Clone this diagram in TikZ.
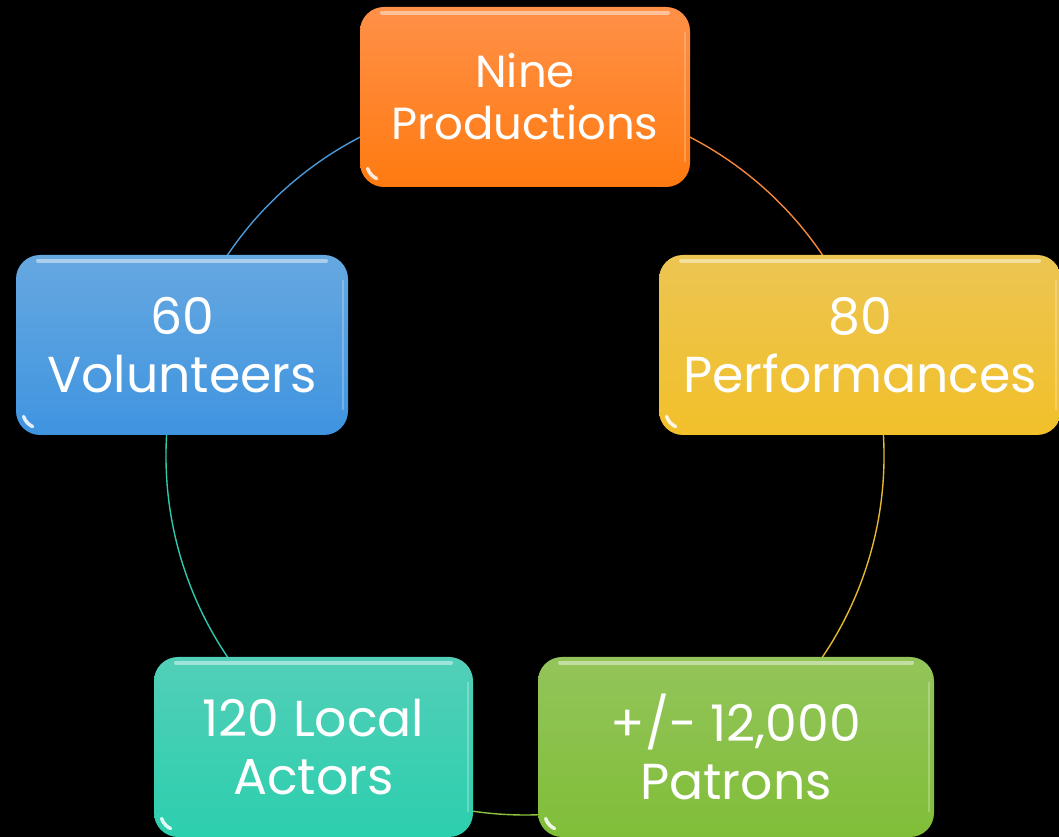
\documentclass[tikz,border=0pt]{standalone}
\usepackage{fontspec}
\setmainfont{Poppins}
\usetikzlibrary{backgrounds}
\definecolor{orT}{HTML}{FF9048}
\definecolor{orB}{HTML}{FF7A10}
\definecolor{yeT}{HTML}{ECC552}
\definecolor{yeB}{HTML}{F2C02A}
\definecolor{grT}{HTML}{93C45A}
\definecolor{grB}{HTML}{80BE38}
\definecolor{teT}{HTML}{52CFB8}
\definecolor{teB}{HTML}{2CCFAE}
\definecolor{blT}{HTML}{66A8E0}
\definecolor{blB}{HTML}{3F94E0}
\definecolor{orL}{HTML}{F5873A}
\definecolor{yeL}{HTML}{E6B82E}
\definecolor{grL}{HTML}{8CC23E}
\definecolor{teL}{HTML}{2EC8AE}
\definecolor{blL}{HTML}{4A98D8}
\newcommand\glossbox[1]{%
  \draw[white, opacity=.45, line width=3.5pt, line cap=round]
    ([xshift=22pt,yshift=-6pt]#1.north west) -- ([xshift=-22pt,yshift=-6pt]#1.north east);
  \draw[white, opacity=.25, line width=2.5pt, line cap=round]
    ([xshift=-5pt,yshift=-26pt]#1.north east) -- ([xshift=-5pt,yshift=26pt]#1.south east);
  \draw[white, opacity=.85, line width=3.5pt, line cap=round]
    ([shift={(24pt,24pt)}]#1.south west) ++(198:17pt) arc[start angle=198, end angle=245, radius=17pt];
}
\begin{document}
\begin{tikzpicture}[x=1pt,y=1pt,
  box/.style={rounded corners=24pt, inner sep=0pt, text=white, align=center,
    minimum height=180pt, font=\fontsize{50.5}{58}\selectfont},
  ring/.style={line width=1.4pt}]
\useasboundingbox (0,0) rectangle (1059,837);
\node[box, minimum width=330pt, top color=orT, bottom color=orB,
  font=\fontsize{45}{52}\selectfont] (nine) at (525,740) {Nine\\Productions};
\node[box, minimum width=402pt, top color=yeT, bottom color=yeB] (perf) at (860,492) {80\\Performances};
\node[box, minimum width=396pt, top color=grT, bottom color=grB] (patr) at (736,90) {+/- 12,000\\Patrons};
\node[box, minimum width=319pt, top color=teT, bottom color=teB] (acto) at (313.5,90) {120 Local\\Actors};
\node[box, minimum width=332pt, top color=blT, bottom color=blB] (volu) at (182,492) {60\\Volunteers};
\glossbox{nine}
\glossbox{perf}
\glossbox{patr}
\glossbox{acto}
\glossbox{volu}
\begin{scope}[on background layer]
  \fill[black] (0,0) rectangle (1059,837);
  \coordinate (cc) at (525,381);
  \coordinate (p1) at ([shift={(90:359pt)}]cc);
  \coordinate (p2) at ([shift={(18:359pt)}]cc);
  \coordinate (p3) at ([shift={(-54:359pt)}]cc);
  \coordinate (p4) at ([shift={(-126:359pt)}]cc);
  \coordinate (p5) at ([shift={(162:359pt)}]cc);
  \draw[ring, orL] (p1) arc[start angle=90, end angle=18, radius=359pt];
  \draw[ring, yeL] (p2) arc[start angle=18, end angle=-54, radius=359pt];
  \draw[ring, grL] (p3) arc[start angle=-54, end angle=-126, radius=359pt];
  \draw[ring, teL] (p4) arc[start angle=-126, end angle=-198, radius=359pt];
  \draw[ring, blL] (p5) arc[start angle=162, end angle=90, radius=359pt];
\end{scope}
\end{tikzpicture}
\end{document}
